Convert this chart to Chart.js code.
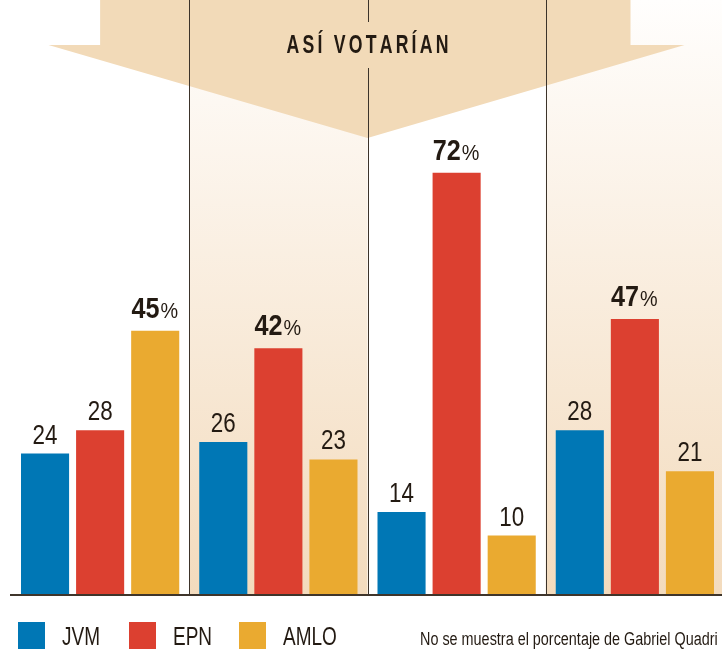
<!DOCTYPE html>
<html>
<head>
<meta charset="utf-8">
<script src="https://cdn.jsdelivr.net/npm/chart.js@4/dist/chart.umd.min.js"></script>
<style>
  html, body { margin: 0; padding: 0; overflow: hidden; background: #fff; }
  #wrap { width: 740px; height: 665px; }
</style>
</head>
<body>
<div id="wrap"><canvas id="chart" width="740" height="665"></canvas></div>
<script>
"use strict";

const groups = ['Grupo 1', 'Grupo 2', 'Grupo 3', 'Grupo 4'];
const seriesNames = ['JVM', 'EPN', 'AMLO'];
const jvmValues = [24, 26, 14, 28];
const epnValues = [28, 42, 72, 47];
const amloValues = [45, 23, 10, 21];
const seriesColors = ['#0077b5', '#dc4030', '#eaaa30'];
const title = 'ASÍ VOTARÍAN';
const note = 'No se muestra el porcentaje de Gabriel Quadri';

const INK = '#231a12';
const SAND = '#f2dab8';
const FONT = '"Liberation Sans", Arial, sans-serif';

// condensed text: canvas has no narrow font here, so squeeze horizontally
function narrowText(ctx, text, x, y, opts) {
  ctx.save();
  ctx.font = opts.font;
  ctx.fillStyle = opts.color || INK;
  ctx.textBaseline = 'alphabetic';
  const sx = opts.scale || 0.8;
  const w = ctx.measureText(text).width * sx;
  let left = x;
  if (opts.align === 'center') left = x - w / 2;
  ctx.translate(left, y);
  ctx.scale(sx, 1);
  ctx.textAlign = 'left';
  ctx.fillText(text, 0, 0);
  ctx.restore();
  return w;
}

function boundaries(chart) {
  const xs = chart.scales.x;
  const out = [];
  for (let i = 0; i < groups.length - 1; i++) {
    out.push((xs.getPixelForValue(i) + xs.getPixelForValue(i + 1)) / 2);
  }
  return out;
}

const backdrop = {
  id: 'backdrop',
  beforeDraw(chart) {
    const { ctx, chartArea } = chart;
    const xs = chart.scales.x;
    const base = chartArea.bottom;
    const b = boundaries(chart);
    ctx.save();
    ctx.fillStyle = '#fff';
    ctx.fillRect(0, 0, chart.width, chart.height);

    // shaded columns (2nd and 4th)
    const grad = ctx.createLinearGradient(0, 0, 0, base);
    grad.addColorStop(0, '#fffefd');
    grad.addColorStop(1, '#f3dbbd');
    ctx.fillStyle = grad;
    ctx.fillRect(b[0], 0, b[1] - b[0], base);
    ctx.fillRect(b[2], 0, chart.width - b[2], base);

    // big arrow
    const mid = b[1];
    ctx.fillStyle = SAND;
    ctx.beginPath();
    ctx.moveTo(xs.getPixelForValue(0), 0);
    ctx.lineTo(mid + 263, 0);
    ctx.lineTo(mid + 263, 45);
    ctx.lineTo(mid + 317, 45);
    ctx.lineTo(mid, 138);
    ctx.lineTo(mid - 319, 45);
    ctx.lineTo(xs.getPixelForValue(0), 45);
    ctx.closePath();
    ctx.fill();

    // separators
    ctx.strokeStyle = '#3c332a';
    ctx.lineWidth = 1;
    b.forEach((x, i) => {
      const px = Math.round(x) + 0.5;
      ctx.beginPath();
      if (i === 1) {
        ctx.moveTo(px, 0); ctx.lineTo(px, 22);
        ctx.moveTo(px, 68); ctx.lineTo(px, base);
      } else {
        ctx.moveTo(px, 0); ctx.lineTo(px, base);
      }
      ctx.stroke();
    });

    // title, letter-spaced
    const tFont = 'bold 26px ' + FONT;
    ctx.font = tFont;
    const sx = 0.68, spacing = 3.2;
    let total = 0;
    const chars = [...title];
    chars.forEach(c => { total += ctx.measureText(c).width * sx + spacing; });
    total -= spacing;
    let x = mid - total / 2;
    chars.forEach(c => {
      x += narrowText(ctx, c, x, 53, { font: tFont, scale: sx }) + spacing;
    });
    ctx.restore();
  },
  afterDatasetsDraw(chart) {
    const { ctx, chartArea } = chart;
    ctx.save();

    // baseline
    ctx.strokeStyle = '#3f352b';
    ctx.lineWidth = 2;
    ctx.beginPath();
    ctx.moveTo(10, chartArea.bottom + 1);
    ctx.lineTo(chart.width, chartArea.bottom + 1);
    ctx.stroke();

    // value labels, winner of each group in bold with %
    groups.forEach((g, i) => {
      const vals = chart.data.datasets.map(d => d.data[i]);
      const top = Math.max(...vals);
      chart.data.datasets.forEach((d, di) => {
        const bar = chart.getDatasetMeta(di).data[i];
        const v = d.data[i];
        if (v === top) {
          const bFont = 'bold 30px ' + FONT;
          const pFont = '22px ' + FONT;
          ctx.font = bFont;
          const w1 = ctx.measureText(String(v)).width * 0.84;
          ctx.font = pFont;
          const w2 = ctx.measureText('%').width * 0.9;
          const left = bar.x - (w1 + w2) / 2 - 1;
          narrowText(ctx, String(v), left, bar.y - 13, { font: bFont, scale: 0.84 });
          narrowText(ctx, '%', left + w1 + 1, bar.y - 13, { font: pFont, scale: 0.9 });
        } else {
          narrowText(ctx, String(v), bar.x, bar.y - 10, { font: '28px ' + FONT, scale: 0.8, align: 'center' });
        }
      });
    });

    // legend
    const legendX = [18, 129, 239];
    chart.data.datasets.forEach((d, di) => {
      ctx.fillStyle = d.backgroundColor;
      ctx.fillRect(legendX[di], 622, 27, 27);
      narrowText(ctx, d.label, legendX[di] + 44, 645, { font: '25px ' + FONT, scale: 0.76 });
    });
    narrowText(ctx, note, 420, 645, { font: '18px ' + FONT, scale: 0.8 });
    ctx.restore();
  }
};

const seriesData = [jvmValues, epnValues, amloValues];

new Chart(document.getElementById('chart'), {
  type: 'bar',
  data: {
    labels: groups,
    datasets: seriesNames.map((name, i) => ({
      label: name,
      data: seriesData[i],
      backgroundColor: seriesColors[i],
      borderWidth: 0,
      categoryPercentage: 0.927,
      barPercentage: 0.873
    }))
  },
  options: {
    responsive: false,
    animation: false,
    layout: { padding: { left: 11, right: 16, top: 9, bottom: 71 } },
    plugins: {
      legend: { display: false },
      tooltip: { enabled: false }
    },
    scales: {
      x: { display: false },
      y: { display: false, min: 0, max: 100 }
    }
  },
  plugins: [backdrop]
});
</script>
</body>
</html>
